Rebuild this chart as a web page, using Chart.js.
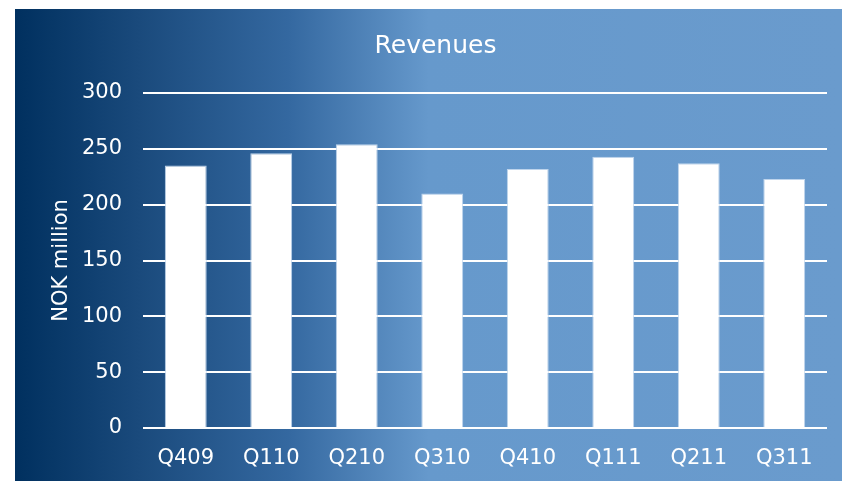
<!DOCTYPE html>
<html>
<head>
<meta charset="utf-8">
<script src="https://cdn.jsdelivr.net/npm/chart.js@4/dist/chart.umd.min.js"></script>
<style>
  body { margin: 0; background: #ffffff; }
  #panel {
    position: absolute;
    left: 15px; top: 9px;
    width: 827px; height: 472px;
    background: linear-gradient(to right, #00305f 0%, #1a4a7c 15%, #3468a0 33%, #6699cc 50%, #6a9bcd 100%);
  }
</style>
</head>
<body>
<div id="panel"><canvas id="revChart"></canvas></div>
<script>
// Quarterly revenues, NOK million
const quarters = ["Q409", "Q110", "Q210", "Q310", "Q410", "Q111", "Q211", "Q311"];
const revenues = [235, 246, 254, 210, 232, 243, 237, 223];
const yTicks = [0, 50, 100, 150, 200, 250, 300];

const font = "'DejaVu Sans', Verdana, sans-serif";

const ctx = document.getElementById("revChart").getContext("2d");
new Chart(ctx, {
    type: "bar",
    data: {
        labels: quarters,
        datasets: [{
            label: "Revenues",
            data: revenues,
            backgroundColor: "#ffffff",
            borderColor: "rgba(190, 212, 236, 1)",
            borderWidth: 1,
            borderSkipped: "bottom",
            barPercentage: 0.49,
            categoryPercentage: 1.0
        }]
    },
    options: {
        responsive: true,
        maintainAspectRatio: false,
        animation: false,
        layout: { padding: { left: 14, right: 0, top: 0, bottom: 0 } },
        plugins: {
            legend: { display: false },
            tooltip: { enabled: false },
            title: {
                display: true,
                text: "Revenues",
                color: "#ffffff",
                font: { family: font, size: 25, weight: "normal" },
                padding: { top: 22, bottom: 32 }
            }
        },
        scales: {
            x: {
                grid: { display: false },
                border: { display: false },
                ticks: {
                    color: "#ffffff",
                    font: { family: font, size: 21 },
                    padding: 10,
                    maxRotation: 0
                },
                afterFit: function (scale) { scale.height = 53; }
            },
            y: {
                min: 0,
                max: 300,
                afterBuildTicks: function (scale) {
                    scale.ticks = yTicks.map(v => ({ value: v }));
                },
                grid: { color: "#ffffff", lineWidth: 2, drawTicks: false },
                border: { display: false },
                ticks: {
                    color: "#ffffff",
                    font: { family: font, size: 21 },
                    padding: 21
                },
                title: {
                    display: true,
                    text: "NOK million",
                    color: "#ffffff",
                    font: { family: font, size: 21 },
                    padding: { top: 20, bottom: 0 }
                },
                afterFit: function (scale) { scale.width = 114; }
            },
            // empty right-hand strip so the plot stops short of the panel edge
            yRight: {
                position: "right",
                grid: { display: false },
                border: { display: false },
                ticks: { display: false },
                afterFit: function (scale) { scale.width = 15; }
            }
        }
    }
});
</script>
</body>
</html>
